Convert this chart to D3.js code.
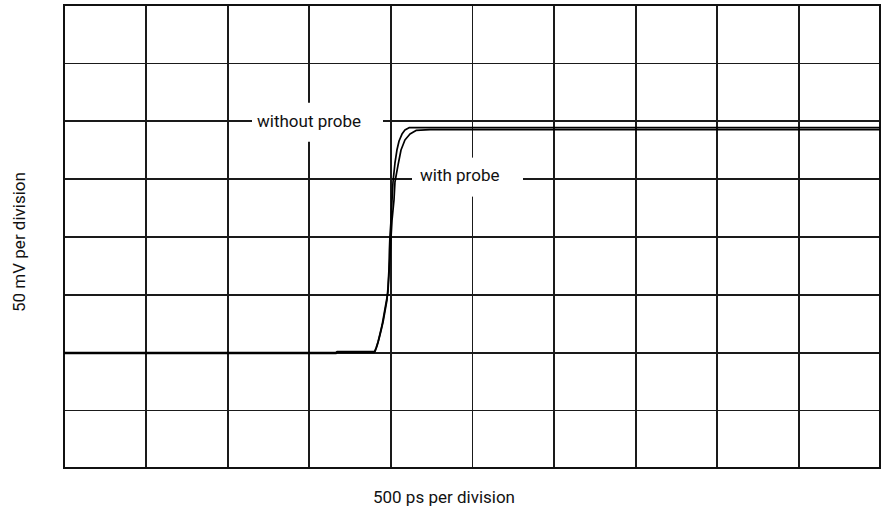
<!DOCTYPE html>
<html>
<head>
<meta charset="utf-8">
<script src="https://cdn.jsdelivr.net/npm/d3@7"></script>
<style>
  body { margin: 0; background: #fff; }
  svg { display: block; }
  .label { font-family: Roboto, "Liberation Sans", sans-serif; font-size: 17px; fill: #111; }
  .grid line, .grid path { stroke: #1a1a1a; stroke-width: 1.6; shape-rendering: crispEdges; }
  .trace { fill: none; stroke: #000; stroke-width: 1.7; stroke-linejoin: round; }
</style>
</head>
<body>
<div id="container"></div>
<script>
// time in ps, level in mV
var timeTicks = [0, 500, 1000, 1500, 2000, 2500, 3000, 3500, 4000, 4500, 5000];
var voltTicks = [0, 50, 100, 150, 200, 250, 300, 350, 400];

var withoutProbeT = [0, 1667, 1673, 1906, 1918, 1930, 1942, 1955, 1967, 1979, 1985, 1991, 1994, 1997, 2004, 2010, 2016, 2028, 2040, 2053, 2071, 2089, 2114, 5000];
var withoutProbeV = [99.8, 99.8, 100.6, 100.6, 105.4, 111.4, 118.4, 126.1, 135.6, 145.1, 155.5, 171.1, 188.4, 199.6, 214.2, 231.5, 247.1, 263.5, 274.7, 282.5, 288.5, 292, 294, 294];

var withProbeT = [0, 1667, 1673, 1900, 1912, 1924, 1936, 1949, 1961, 1973, 1985, 1991, 1998, 2004, 2010, 2022, 2028, 2047, 2065, 2089, 2120, 2157, 2243, 5000];
var withProbeV = [99, 99, 99.8, 99.8, 103.7, 108.9, 115.8, 123.5, 133, 142.5, 152, 166.7, 184, 199.6, 214.2, 231.5, 247.1, 261.8, 274.7, 283.4, 288.5, 291.6, 292.4, 292.4];

var xLabel = "500 ps per division";
var yLabel = "50 mV per division";

var width = 881, height = 511;
var plotLeft = 64, plotRight = 880, plotTop = 5, plotBottom = 468;

var svg = d3.select("#container")
  .append("svg")
  .attr("width", width)
  .attr("height", height);

var x = d3.scaleLinear().domain([0, 5000]).range([plotLeft, plotRight]);
var y = d3.scaleLinear().domain([0, 400]).range([plotBottom, plotTop]);

// grid from the axes
svg.append("g")
  .attr("class", "grid")
  .attr("transform", "translate(0," + plotBottom + ")")
  .call(d3.axisBottom(x).tickValues(timeTicks).tickSize(-(plotBottom - plotTop)).tickFormat("").tickSizeOuter(0))
  .select(".domain").remove();

svg.append("g")
  .attr("class", "grid")
  .attr("transform", "translate(" + plotLeft + ",0)")
  .call(d3.axisLeft(y).tickValues(voltTicks).tickSize(-(plotRight - plotLeft)).tickFormat("").tickSizeOuter(0))
  .select(".domain").remove();

svg.append("rect")
  .attr("x", plotLeft).attr("y", plotTop)
  .attr("width", plotRight - plotLeft).attr("height", plotBottom - plotTop)
  .attr("fill", "none")
  .attr("stroke", "#111")
  .attr("stroke-width", 2);

var line = d3.line()
  .x(function (d) { return x(d[0]); })
  .y(function (d) { return y(d[1]); });

svg.append("path")
  .attr("class", "trace")
  .attr("d", line(d3.zip(withProbeT, withProbeV)));

svg.append("path")
  .attr("class", "trace")
  .attr("d", line(d3.zip(withoutProbeT, withoutProbeV)));

// annotations with white boxes over the grid
function note(text, x0, x1, yc, tx, ty) {
  svg.append("rect")
    .attr("x", x0).attr("y", yc - 19.5)
    .attr("width", x1 - x0).attr("height", 39)
    .attr("fill", "#fff");
  svg.append("text")
    .attr("class", "label")
    .attr("x", tx).attr("y", ty)
    .text(text);
}

note("without probe", 252, 383, y(300) + 1.5, 257, y(300) + 6);
note("with probe", 412, 523, y(250) - 1.5, 420, y(250) + 2);

svg.append("text")
  .attr("class", "label")
  .attr("x", 444)
  .attr("y", 503)
  .attr("text-anchor", "middle")
  .text(xLabel);

svg.append("text")
  .attr("class", "label")
  .attr("transform", "translate(25,242) rotate(-90)")
  .attr("text-anchor", "middle")
  .text(yLabel);
</script>
</body>
</html>
